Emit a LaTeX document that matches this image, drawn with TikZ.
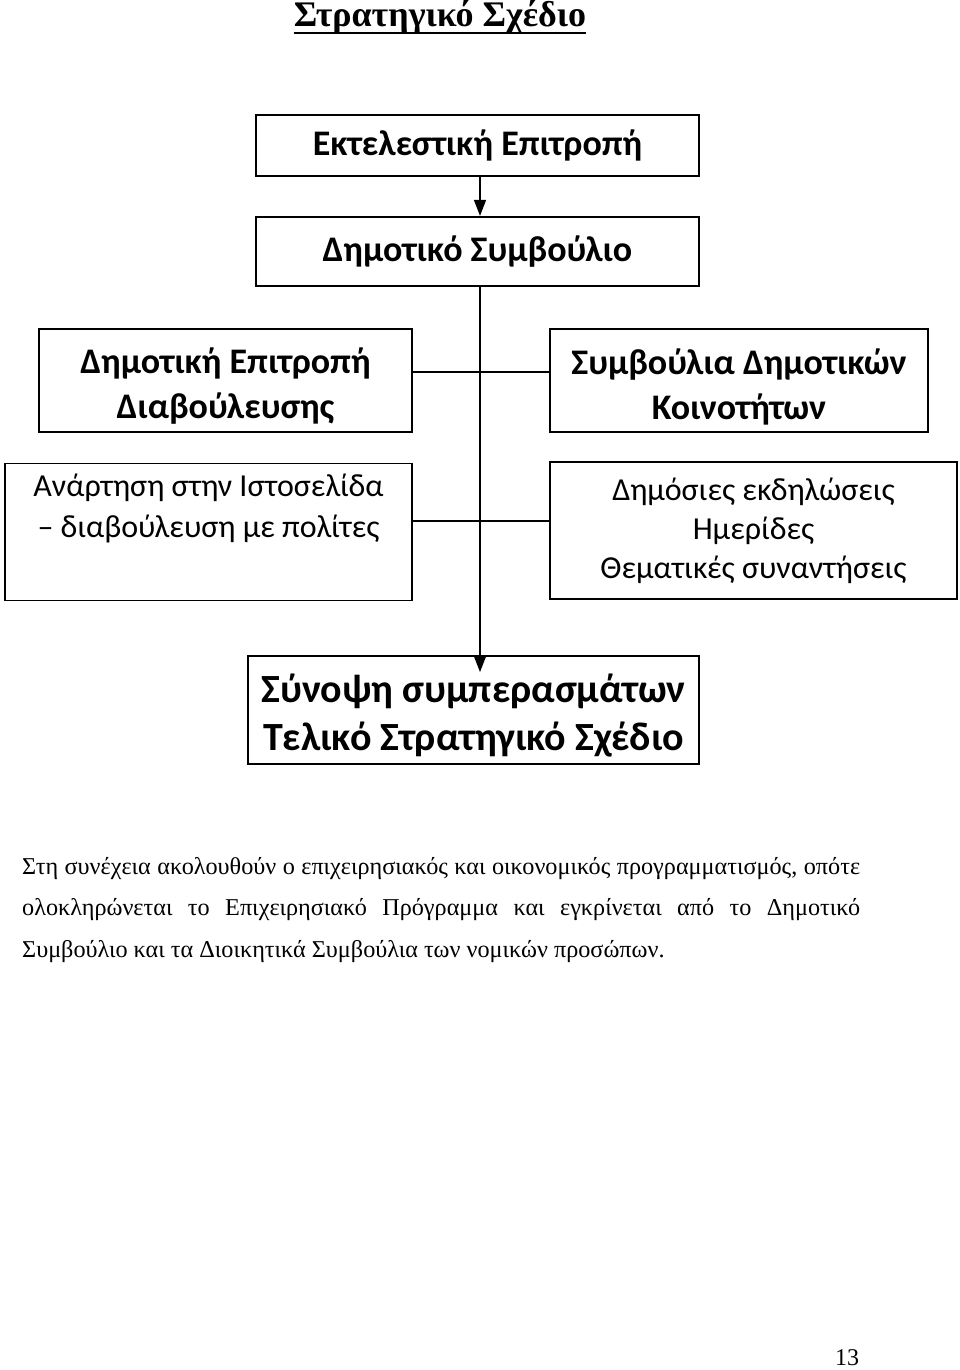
\documentclass[tikz,border=0pt]{standalone}
\usepackage{fontspec}
\setmainfont{Liberation Serif}
\newfontfamily\calibri{Carlito}
\usetikzlibrary{positioning}
\usetikzlibrary{arrows.meta}
\hyphenpenalty=10000
\exhyphenpenalty=10000
\tikzstyle{every box} = [draw, line width=1.8pt, inner sep=0pt, align=center]
\tikzstyle{bbox} = [every box, font=\calibri\bfseries\fontsize{36}{44}\selectfont]
\tikzstyle{rbox} = [every box, font=\calibri\fontsize{32}{39}\selectfont]
\tikzstyle{btext} = [inner sep=0pt, align=center, yshift=-6pt, font=\calibri\bfseries\fontsize{36}{45}\selectfont]
\tikzstyle{every link} = []
\tikzstyle{link} = [>={Triangle[width=12pt,length=16pt]}, draw, line width=1.4pt, every link]

\begin{document}
\begin{tikzpicture}[x=1pt, y=1pt]
        \useasboundingbox (0,0) rectangle (960,-1370);
        \tikzstyle{para} = [inner sep=0pt, text width=838pt, align=justify,
            font=\fontsize{24.2}{41.5}\selectfont]

        % title
        \node[inner sep=0pt, anchor=base] (titlos) at (440,-27) {\fontsize{36}{40}\selectfont\bfseries Στρατηγικό Σχέδιο};
        \draw[line width=2.5pt] ([yshift=-6pt]titlos.base west) -- ([yshift=-6pt]titlos.base east);

        % boxes
        \node[bbox, minimum width=443pt, minimum height=61pt] (ektel) at (477.5,-145.5) {Εκτελεστική Επιτροπή};
        \node[bbox, minimum width=443pt, minimum height=69pt] (dimsym) [below=39pt of ektel] {Δημοτικό Συμβούλιο};
        \node[bbox, minimum width=373pt, minimum height=103pt,
            label={[btext]center:{Δημοτική Επιτροπή\\Διαβούλευσης}}] (epitr) at (225.5,-380.5) {};
        \node[bbox, minimum width=378pt, minimum height=103pt,
            label={[btext]center:{Συμβούλια Δημοτικών\\Κοινοτήτων}}] (koin) at (739,-380.5) {};
        \node[rbox, minimum width=407pt, minimum height=137pt, font=\calibri\fontsize{32}{41}\selectfont] (anart) at (208.5,-532) {Ανάρτηση στην Ιστοσελίδα\\– διαβούλευση με πολίτες\\\strut};
        \node[rbox, minimum width=407pt, minimum height=137pt] (ekdil) at (753.5,-530.5) {Δημόσιες εκδηλώσεις\\Ημερίδες\\Θεματικές συναντήσεις};
        \node[bbox, minimum width=451pt, minimum height=108pt,
            label={[btext, font=\calibri\bfseries\fontsize{40}{48}\selectfont]center:{Σύνοψη συμπερασμάτων\\Τελικό Στρατηγικό Σχέδιο}}] (synop) at (473.5,-710) {};

        % links
        \coordinate (kormos) at (480,0);
        \draw[link, ->] (ektel.south -| kormos) -- (dimsym.north -| kormos);
        \draw[link, ->] (dimsym.south -| kormos) -- ([yshift=-17pt]synop.north -| kormos);
        \draw[link] ([yshift=8.5pt]epitr.east) -- ([yshift=8.5pt]epitr.east -| koin.west);
        \draw[link] ([yshift=11pt]anart.east) -- ([yshift=11pt]anart.east -| ekdil.west);

        % text
        \node[para, anchor=north west] (keimeno) at (22,-857) {Στη συνέχεια ακολουθούν ο επιχειρησιακός και οικονομικός προγραμματισμός, οπότε\linebreak ολοκληρώνεται το Επιχειρησιακό Πρόγραμμα και εγκρίνεται από το Δημοτικό\linebreak Συμβούλιο και τα Διοικητικά Συμβούλια των νομικών προσώπων.};
        \node[inner sep=0pt, anchor=base] (selida) at (847,-1365) {\fontsize{24}{24}\selectfont 13};
\end{tikzpicture}
\end{document}
